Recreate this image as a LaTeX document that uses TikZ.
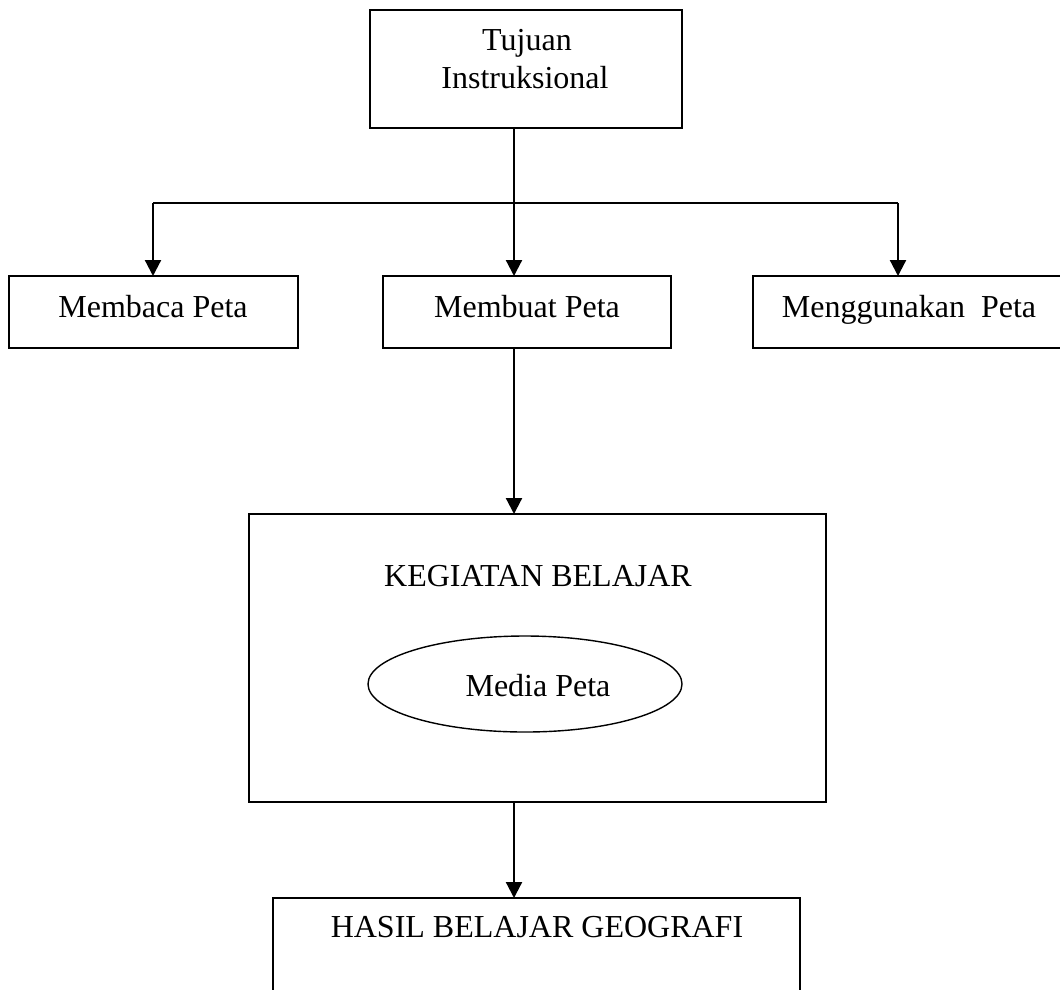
\documentclass[tikz,border=0pt]{standalone}
\usepackage{fontspec}
\setmainfont{Liberation Serif}
\usetikzlibrary{arrows.meta,shapes.geometric,calc}
\tikzset{
  boxnode/.style={draw=black, line width=1.7pt, rectangle, inner sep=0pt, outer sep=0pt},
  ovalnode/.style={draw=black, line width=1.4pt, ellipse, inner sep=0pt, outer sep=0pt},
  txt/.style={font=\fontsize{32}{38}\selectfont, inner sep=0pt, anchor=base},
  conn/.style={line width=2.2pt, draw=black},
  arr/.style={conn, -{Triangle[width=16pt,length=16pt]}}
}
\begin{document}
\begin{tikzpicture}[x=1pt,y=-1pt]
\useasboundingbox (0,0) rectangle (1060,989);
\clip (0,0) rectangle (1060,989);
\fill[white] (0,0) rectangle (1060,989);
% boxes
\node[boxnode, minimum width=312pt, minimum height=118pt] (top) at (526,69) {};
\node[boxnode, minimum width=289pt, minimum height=72pt] (membaca) at (153.5,312) {};
\node[boxnode, minimum width=288pt, minimum height=72pt] (membuat) at (527,312) {};
\node[boxnode, minimum width=312pt, minimum height=72pt] (menggunakan) at (909,312) {};
\node[boxnode, minimum width=577pt, minimum height=288pt] (kegiatan) at (537.5,658) {};
\node[ovalnode, minimum width=314pt, minimum height=96pt] (media) at (525,684) {};
\node[boxnode, minimum width=527pt, minimum height=112pt] (hasil) at (536.5,954) {};
% texts
\node[txt] (t1) at (527,50) {Tujuan};
\node[txt] (t2) at (525,88) {Instruksional};
\node[txt] (t3) at (153,317) {Membaca Peta};
\node[txt] (t4) at (527,317) {Membuat Peta};
\node[txt] (t5) at (909,317) {Menggunakan\ \ Peta};
\node[txt] (t6) at (538,586) {KEGIATAN BELAJAR};
\node[txt] (t7) at (538,696) {Media Peta};
\node[txt] (t8) at (537,937) {HASIL BELAJAR GEOGRAFI};
% junction coordinates
\coordinate (j) at (514,203);
\coordinate (aL) at (153,203);
\coordinate (aR) at (898,203);
% connectors
\draw[arr] (top.south -| j) -- (membuat.north -| j);
\draw[conn] (aL) -- (aR);
\draw[arr] (aL) -- (aL |- membaca.north);
\draw[arr] (aR) -- (aR |- menggunakan.north);
\draw[arr] (membuat.south -| j) -- (kegiatan.north -| j);
\draw[arr] (kegiatan.south -| j) -- (hasil.north -| j);
\end{tikzpicture}
\end{document}
